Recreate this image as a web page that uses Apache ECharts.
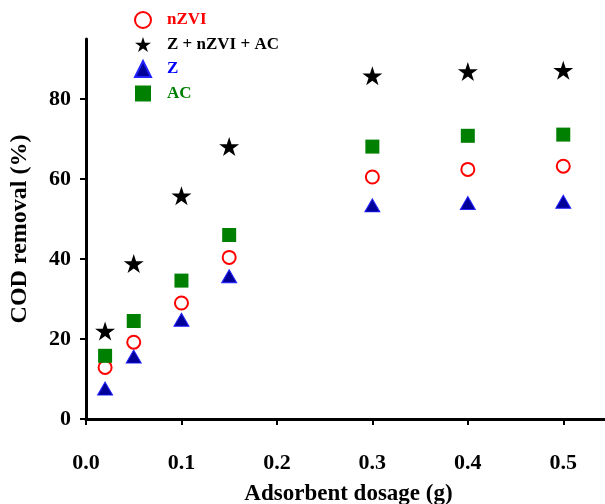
<!DOCTYPE html>
<html>
<head>
<meta charset="utf-8">
<script src="https://cdn.jsdelivr.net/npm/echarts@6/dist/echarts.min.js"></script>
<style>
  html, body { margin: 0; padding: 0; background: #fff; }
  #chart { width: 605px; height: 504px; }
</style>
</head>
<body>
<div id="chart"></div>
<script>
// data
const dosage = [0.02, 0.05, 0.1, 0.15, 0.3, 0.4, 0.5];
const nzvi   = [12.9, 19.2, 29.0, 40.4, 60.5, 62.4, 63.2];
const zNzviAc = [22.0, 38.9, 55.8, 68.1, 85.8, 86.9, 87.2];
const zeo    = [7.6, 15.6, 24.8, 35.7, 53.4, 54.0, 54.3];
const ac     = [15.8, 24.5, 34.6, 46.0, 68.1, 70.8, 71.1];

const FONT = 'Liberation Serif';
const STAR = 'path://M50 0 L61.2 34.5 L97.6 34.5 L68.2 55.9 L79.4 90.5 L50 69.1 L20.6 90.5 L31.8 55.9 L2.4 34.5 L38.8 34.5 Z';

function pts(ys) {
  return dosage.map((x, i) => [x, ys[i]]);
}

const chart = echarts.init(document.getElementById('chart'), null, { renderer: 'canvas' });

chart.setOption({
  backgroundColor: '#fff',
  animation: false,
  grid: { left: 86, right: -6, top: 39, bottom: 85, containLabel: false, outerBoundsMode: 'none' },
  legend: {
    orient: 'vertical',
    left: 129, top: 6,
    itemWidth: 16, itemHeight: 16, itemGap: 7,
    textStyle: { fontFamily: FONT, fontWeight: 'bold', fontSize: 17, padding: [0, 0, 0, 11] },
    data: [
      { name: 'nZVI', textStyle: { color: '#ff0000' } },
      { name: 'Z + nZVI + AC', textStyle: { color: '#000' } },
      { name: 'Z', textStyle: { color: '#0000ff' } },
      { name: 'AC', textStyle: { color: '#008000' } }
    ]
  },
  xAxis: {
    type: 'value', min: 0, max: 0.55, interval: 0.1,
    name: 'Adsorbent dosage (g)', nameLocation: 'middle', nameGap: 64,
    nameTextStyle: { fontFamily: FONT, fontWeight: 'bold', fontSize: 23, color: '#000' },
    axisLine: { lineStyle: { color: '#000', width: 3 } },
    axisTick: { show: true, length: 6, lineStyle: { color: '#000', width: 2 } },
    axisLabel: {
      margin: 33, showMaxLabel: false,
      fontFamily: FONT, fontWeight: 'bold', fontSize: 22, color: '#000',
      formatter: v => v.toFixed(1)
    },
    splitLine: { show: false }
  },
  yAxis: {
    type: 'value', min: 0, max: 95, interval: 20,
    name: 'COD removal (%)', nameLocation: 'middle', nameGap: 54, nameRotate: 90,
    nameTextStyle: { fontFamily: FONT, fontWeight: 'bold', fontSize: 24, color: '#000' },
    axisLine: { show: true, lineStyle: { color: '#000', width: 3 } },
    axisTick: { show: true, length: 6, lineStyle: { color: '#000', width: 2 } },
    axisLabel: {
      margin: 15, showMaxLabel: false,
      fontFamily: FONT, fontWeight: 'bold', fontSize: 22, color: '#000'
    },
    splitLine: { show: false }
  },
  series: [
    {
      name: 'nZVI', type: 'scatter', data: pts(nzvi),
      symbol: 'emptyCircle', symbolSize: 13,
      itemStyle: { color: '#ff0000', borderColor: '#ff0000', borderWidth: 2.2, opacity: 1 }
    },
    {
      name: 'Z + nZVI + AC', type: 'scatter', data: pts(zNzviAc),
      symbol: STAR, symbolSize: 20, symbolKeepAspect: true,
      itemStyle: { color: '#000', opacity: 1 }
    },
    {
      name: 'Z', type: 'scatter', data: pts(zeo),
      symbol: 'triangle', symbolSize: [15, 13],
      itemStyle: { color: '#000099', borderColor: '#2222ff', borderWidth: 1, opacity: 1 }
    },
    {
      name: 'AC', type: 'scatter', data: pts(ac),
      symbol: 'rect', symbolSize: 14,
      itemStyle: { color: '#008000', opacity: 1 }
    }
  ]
});
</script>
</body>
</html>
